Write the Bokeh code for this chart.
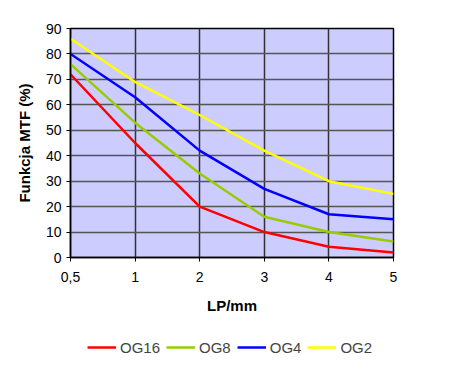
from bokeh.plotting import figure
from bokeh.layouts import column
from bokeh.models import Range1d, FixedTicker, Legend, LegendItem
from bokeh.embed import file_html
from bokeh.resources import INLINE

categories = ["0,5", "1", "2", "3", "4", "5"]
og16 = [72, 45, 20, 10, 4.2, 2]
og8 = [76, 53, 33, 16, 10, 6.3]
og4 = [80, 63, 42, 27, 17, 15]
og2 = [86, 69, 56, 42, 30, 25]
series = [("OG16", og16, "#FF0000"), ("OG8", og8, "#99CC00"),
          ("OG4", og4, "#0000FF"), ("OG2", og2, "#FFFF00")]

xs = list(range(len(categories)))
FONT = "Liberation Sans"

p = figure(width=435, height=327, output_backend="svg", toolbar_location=None,
           x_range=Range1d(0, len(categories) - 1), y_range=Range1d(0, 90),
           min_border_left=70, min_border_right=42, min_border_top=28, min_border_bottom=70)
p.background_fill_color = "#CCCCFF"
p.border_fill_color = "white"
p.outline_line_color = "black"
p.outline_line_width = 1.5

p.xaxis.ticker = FixedTicker(ticks=xs)
p.xaxis.major_label_overrides = {i: c for i, c in enumerate(categories)}
p.yaxis.ticker = FixedTicker(ticks=list(range(0, 91, 10)))
for ax in (p.xaxis[0], p.yaxis[0]):
    ax.major_label_text_font = FONT
    ax.major_label_text_font_size = "14px"
    ax.major_label_text_color = "black"
    ax.axis_line_color = "black"
    ax.axis_line_width = 1.5
    ax.major_tick_line_color = "black"
    ax.major_tick_out = 4
    ax.major_tick_in = 0
    ax.minor_tick_line_color = None
    ax.axis_label_text_font = FONT
    ax.axis_label_text_font_size = "15px"
    ax.axis_label_text_font_style = "bold"
    ax.axis_label_text_color = "black"
p.xaxis.axis_label = "LP/mm"
p.yaxis.axis_label = "Funkcja MTF (%)"
p.xaxis.axis_label_standoff = 12
p.yaxis.axis_label_standoff = 10
p.xaxis.major_label_standoff = 10
p.yaxis.major_label_standoff = 5

p.xgrid.grid_line_color = "#333333"
p.ygrid.grid_line_color = "#555555"
p.xgrid.grid_line_width = 1.5
p.ygrid.grid_line_width = 1.5

lf = figure(width=435, height=45, output_backend="svg", toolbar_location=None,
            x_range=Range1d(100, 101), y_range=Range1d(0, 90),
            x_axis_location=None, y_axis_location=None,
            min_border_left=0, min_border_right=0, min_border_top=0, min_border_bottom=0)
lf.grid.visible = False
lf.outline_line_color = None
lf.background_fill_color = "white"

items = []
for name, vals, col in series:
    p.line(xs, vals, line_color=col, line_width=2.5)
    r = lf.line(xs, vals, line_color=col, line_width=2.5)
    items.append(LegendItem(label=name, renderers=[r]))

legend = Legend(items=items, orientation="horizontal", location=(17, 15),
                label_text_font=FONT, label_text_font_size="15px",
                glyph_width=29, label_standoff=4, spacing=6,
                border_line_color=None, background_fill_alpha=0,
                margin=0, padding=4)
lf.add_layout(legend)

open("out.html", "w").write(file_html(column(p, lf, spacing=0), INLINE))
